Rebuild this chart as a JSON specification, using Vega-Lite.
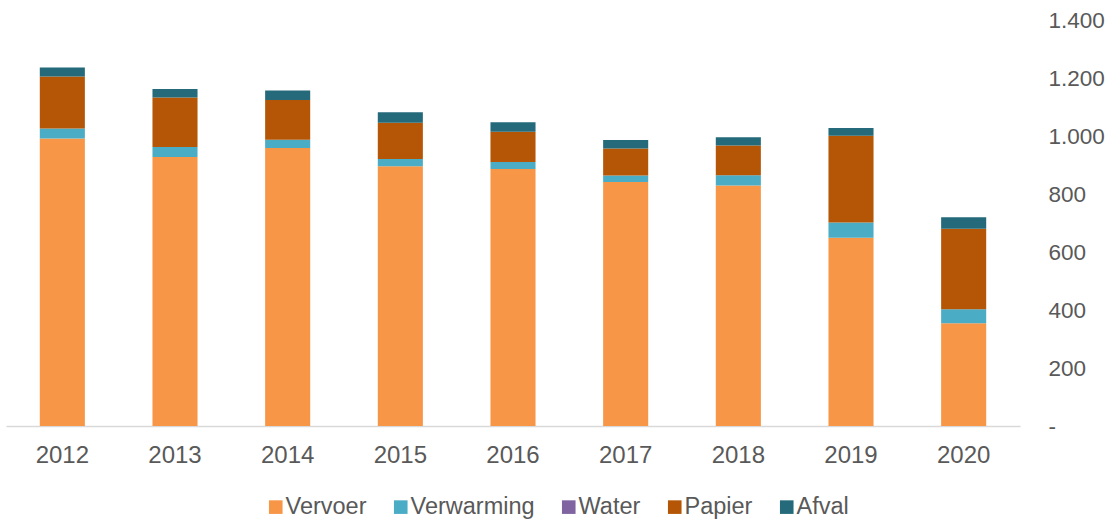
{
  "$schema": "https://vega.github.io/schema/vega-lite/v6.json",
  "autosize": {"type": "none"},
  "padding": {"left": 6, "top": 20, "right": 90, "bottom": 94},
  "width": 1014,
  "height": 406,
  "background": "white",
  "config": {
    "view": {"stroke": null},
    "font": "Liberation Sans",
    "axis": {"labelFont": "Liberation Sans", "labelColor": "#595959", "labelFontSize": 24, "grid": false, "ticks": false, "title": null},
    "legend": {"labelFont": "Liberation Sans", "labelColor": "#595959", "labelFontSize": 23.5}
  },
  "data": {
    "values": [
      {"Jaar": "2012", "Vervoer": 991, "Verwarming": 35, "Water": 0, "Papier": 179, "Afval": 31},
      {"Jaar": "2013", "Vervoer": 928, "Verwarming": 34, "Water": 0, "Papier": 171, "Afval": 29},
      {"Jaar": "2014", "Vervoer": 959, "Verwarming": 28, "Water": 0, "Papier": 137, "Afval": 33},
      {"Jaar": "2015", "Vervoer": 896, "Verwarming": 25, "Water": 0, "Papier": 125, "Afval": 36},
      {"Jaar": "2016", "Vervoer": 886, "Verwarming": 24, "Water": 0, "Papier": 105, "Afval": 32},
      {"Jaar": "2017", "Vervoer": 841, "Verwarming": 23, "Water": 0, "Papier": 93, "Afval": 29},
      {"Jaar": "2018", "Vervoer": 829, "Verwarming": 36, "Water": 0, "Papier": 102, "Afval": 29},
      {"Jaar": "2019", "Vervoer": 649, "Verwarming": 53, "Water": 0, "Papier": 299, "Afval": 27},
      {"Jaar": "2020", "Vervoer": 354, "Verwarming": 49, "Water": 0, "Papier": 277, "Afval": 40}
    ]
  },
  "transform": [
    {"fold": ["Vervoer", "Verwarming", "Water", "Papier", "Afval"], "as": ["Categorie", "Waarde"]},
    {"calculate": "indexof(['Vervoer','Verwarming','Water','Papier','Afval'], datum.Categorie)", "as": "volgorde"}
  ],
  "mark": {"type": "bar"},
  "encoding": {
    "x": {
      "field": "Jaar", "type": "ordinal",
      "scale": {"paddingInner": 0.6, "paddingOuter": 0.3},
      "axis": {"labelAngle": 0, "domainColor": "#d9d9d9", "domainWidth": 1.5, "labelPadding": 17}
    },
    "y": {
      "field": "Waarde", "type": "quantitative", "stack": "zero",
      "scale": {"domain": [0, 1400], "nice": false},
      "axis": {
        "orient": "right", "domain": false, "values": [0, 200, 400, 600, 800, 1000, 1200, 1400],
        "labelPadding": 28, "labelAlign": "left", "labelFontSize": 22.5,
        "labelExpr": "datum.value == 0 ? '-' : replace(format(datum.value, ','), ',', '.')"
      }
    },
    "color": {
      "field": "Categorie", "type": "nominal",
      "scale": {
        "domain": ["Vervoer", "Verwarming", "Water", "Papier", "Afval"],
        "range": ["#F79646", "#4BACC6", "#8064A2", "#B55606", "#256A7A"]
      },
      "legend": {
        "title": null, "orient": "none", "direction": "horizontal",
        "legendX": 258, "legendY": 475,
        "symbolType": "square", "symbolSize": 185, "symbolStrokeWidth": 0,
        "labelOffset": -2, "columnPadding": 22
      }
    },
    "order": {"field": "volgorde", "type": "quantitative", "sort": "ascending"}
  }
}
